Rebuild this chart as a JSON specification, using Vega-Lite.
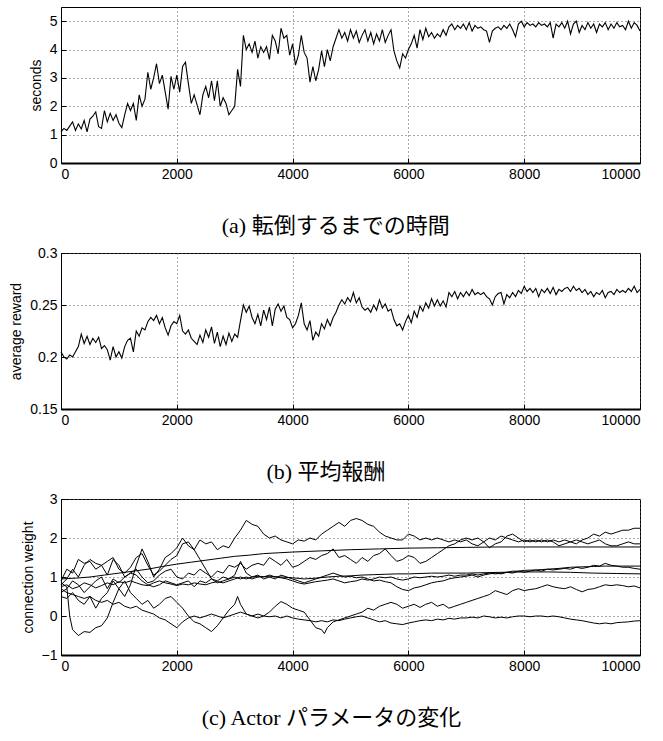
{
"$schema":"https://vega.github.io/schema/vega-lite/v6.json",
"padding":{"left":9,"top":6,"right":0,"bottom":0},
"align":"none",
"center":true,
"spacing":7,
"config":{
 "view":{"stroke":"black","strokeWidth":1},
 "axis":{"labelFont":"Liberation Sans","labelFontSize":14,"labelColor":"black","titleFont":"Liberation Sans","titleFontSize":14,"titleFontWeight":"normal","titleColor":"black","titlePadding":6,"domainColor":"black","tickColor":"black","tickSize":-5,"labelPadding":9,"grid":true,"gridDash":[1,3],"gridColor":"#555","gridOpacity":1},
 "axisX":{"domainWidth":2},
 "axisY":{"domainWidth":1},
 "title":{"font":"Liberation Serif, Noto Sans CJK JP","fontSize":22,"fontWeight":"normal","color":"black","orient":"bottom","anchor":"middle","frame":"bounds","offset":35}
},
"datasets":{
"a":[{"x":0,"y":1.1},{"x":50,"y":1.22},{"x":100,"y":1.15},{"x":150,"y":1.3},{"x":200,"y":1.45},{"x":250,"y":1.15},{"x":300,"y":1.38},{"x":350,"y":1.2},{"x":400,"y":1.5},{"x":450,"y":1.1},{"x":500,"y":1.55},{"x":550,"y":1.65},{"x":600,"y":1.8},{"x":650,"y":1.28},{"x":700,"y":1.22},{"x":750,"y":1.85},{"x":800,"y":1.45},{"x":850,"y":1.75},{"x":900,"y":1.5},{"x":950,"y":1.7},{"x":1000,"y":1.4},{"x":1050,"y":1.25},{"x":1100,"y":1.7},{"x":1150,"y":2.1},{"x":1200,"y":1.85},{"x":1250,"y":2.1},{"x":1300,"y":1.5},{"x":1350,"y":2.4},{"x":1400,"y":2.0},{"x":1450,"y":2.25},{"x":1500,"y":3.2},{"x":1550,"y":2.6},{"x":1600,"y":3.0},{"x":1650,"y":3.5},{"x":1700,"y":2.8},{"x":1750,"y":3.1},{"x":1800,"y":2.5},{"x":1850,"y":1.9},{"x":1900,"y":3.05},{"x":1950,"y":2.6},{"x":2000,"y":3.1},{"x":2050,"y":2.5},{"x":2100,"y":3.4},{"x":2150,"y":3.55},{"x":2200,"y":2.8},{"x":2250,"y":2.1},{"x":2300,"y":2.4},{"x":2350,"y":2.05},{"x":2400,"y":1.7},{"x":2450,"y":2.4},{"x":2500,"y":2.7},{"x":2550,"y":2.3},{"x":2600,"y":2.9},{"x":2650,"y":2.2},{"x":2700,"y":2.9},{"x":2750,"y":2.0},{"x":2800,"y":2.3},{"x":2850,"y":2.1},{"x":2900,"y":1.7},{"x":2950,"y":1.85},{"x":3000,"y":2.0},{"x":3050,"y":3.3},{"x":3100,"y":2.7},{"x":3150,"y":4.5},{"x":3200,"y":4.0},{"x":3250,"y":4.2},{"x":3300,"y":3.9},{"x":3350,"y":4.3},{"x":3400,"y":3.7},{"x":3450,"y":4.1},{"x":3500,"y":3.9},{"x":3550,"y":4.1},{"x":3600,"y":3.65},{"x":3650,"y":4.5},{"x":3700,"y":4.3},{"x":3750,"y":3.85},{"x":3800,"y":4.75},{"x":3850,"y":4.4},{"x":3900,"y":4.5},{"x":3950,"y":3.8},{"x":4000,"y":4.2},{"x":4050,"y":3.45},{"x":4100,"y":3.8},{"x":4150,"y":4.5},{"x":4200,"y":3.9},{"x":4250,"y":3.7},{"x":4300,"y":2.85},{"x":4350,"y":3.4},{"x":4400,"y":2.9},{"x":4450,"y":3.3},{"x":4500,"y":3.95},{"x":4550,"y":3.4},{"x":4600,"y":4.0},{"x":4650,"y":3.6},{"x":4700,"y":4.1},{"x":4750,"y":4.4},{"x":4800,"y":4.7},{"x":4850,"y":4.4},{"x":4900,"y":4.6},{"x":4950,"y":4.3},{"x":5000,"y":4.7},{"x":5050,"y":4.4},{"x":5100,"y":4.65},{"x":5150,"y":4.25},{"x":5200,"y":4.5},{"x":5250,"y":4.7},{"x":5300,"y":4.3},{"x":5350,"y":4.6},{"x":5400,"y":4.2},{"x":5450,"y":4.55},{"x":5500,"y":4.3},{"x":5550,"y":4.7},{"x":5600,"y":4.25},{"x":5650,"y":4.5},{"x":5700,"y":4.7},{"x":5750,"y":3.95},{"x":5800,"y":3.6},{"x":5850,"y":3.35},{"x":5900,"y":3.85},{"x":5950,"y":3.7},{"x":6000,"y":4.0},{"x":6050,"y":4.2},{"x":6100,"y":4.5},{"x":6150,"y":4.05},{"x":6200,"y":4.7},{"x":6250,"y":4.35},{"x":6300,"y":4.75},{"x":6350,"y":4.45},{"x":6400,"y":4.6},{"x":6450,"y":4.4},{"x":6500,"y":4.55},{"x":6550,"y":4.45},{"x":6600,"y":4.7},{"x":6650,"y":4.5},{"x":6700,"y":4.8},{"x":6750,"y":4.9},{"x":6800,"y":4.7},{"x":6850,"y":4.85},{"x":6900,"y":4.75},{"x":6950,"y":4.9},{"x":7000,"y":4.7},{"x":7050,"y":4.95},{"x":7100,"y":4.65},{"x":7150,"y":4.85},{"x":7200,"y":4.75},{"x":7250,"y":4.8},{"x":7300,"y":4.7},{"x":7350,"y":4.65},{"x":7400,"y":4.25},{"x":7450,"y":4.65},{"x":7500,"y":4.75},{"x":7550,"y":4.8},{"x":7600,"y":4.7},{"x":7650,"y":4.85},{"x":7700,"y":4.75},{"x":7750,"y":4.9},{"x":7800,"y":4.7},{"x":7850,"y":4.45},{"x":7900,"y":4.9},{"x":7950,"y":5.0},{"x":8000,"y":4.8},{"x":8050,"y":4.95},{"x":8100,"y":4.85},{"x":8150,"y":4.9},{"x":8200,"y":4.8},{"x":8250,"y":4.95},{"x":8300,"y":4.85},{"x":8350,"y":4.9},{"x":8400,"y":4.8},{"x":8450,"y":4.95},{"x":8500,"y":4.4},{"x":8550,"y":4.9},{"x":8600,"y":4.8},{"x":8650,"y":4.95},{"x":8700,"y":4.75},{"x":8750,"y":5.0},{"x":8800,"y":4.55},{"x":8850,"y":4.9},{"x":8900,"y":5.0},{"x":8950,"y":4.6},{"x":9000,"y":4.85},{"x":9050,"y":4.7},{"x":9100,"y":4.95},{"x":9150,"y":4.75},{"x":9200,"y":4.9},{"x":9250,"y":4.6},{"x":9300,"y":4.9},{"x":9350,"y":4.8},{"x":9400,"y":4.95},{"x":9450,"y":4.7},{"x":9500,"y":4.9},{"x":9550,"y":4.75},{"x":9600,"y":4.95},{"x":9650,"y":4.8},{"x":9700,"y":4.85},{"x":9750,"y":4.7},{"x":9800,"y":5.0},{"x":9850,"y":4.75},{"x":9900,"y":4.95},{"x":9950,"y":4.85},{"x":10000,"y":4.65}],
"b":[{"x":0,"y":0.205},{"x":50,"y":0.2},{"x":100,"y":0.198},{"x":150,"y":0.202},{"x":200,"y":0.2},{"x":250,"y":0.205},{"x":300,"y":0.21},{"x":350,"y":0.222},{"x":400,"y":0.213},{"x":450,"y":0.22},{"x":500,"y":0.212},{"x":550,"y":0.218},{"x":600,"y":0.214},{"x":650,"y":0.219},{"x":700,"y":0.208},{"x":750,"y":0.211},{"x":800,"y":0.207},{"x":850,"y":0.197},{"x":900,"y":0.21},{"x":950,"y":0.2},{"x":1000,"y":0.205},{"x":1050,"y":0.199},{"x":1100,"y":0.21},{"x":1150,"y":0.216},{"x":1200,"y":0.218},{"x":1250,"y":0.205},{"x":1300,"y":0.225},{"x":1350,"y":0.22},{"x":1400,"y":0.228},{"x":1450,"y":0.226},{"x":1500,"y":0.234},{"x":1550,"y":0.238},{"x":1600,"y":0.235},{"x":1650,"y":0.24},{"x":1700,"y":0.232},{"x":1750,"y":0.238},{"x":1800,"y":0.228},{"x":1850,"y":0.221},{"x":1900,"y":0.23},{"x":1950,"y":0.234},{"x":2000,"y":0.232},{"x":2050,"y":0.24},{"x":2100,"y":0.225},{"x":2150,"y":0.222},{"x":2200,"y":0.226},{"x":2250,"y":0.218},{"x":2300,"y":0.215},{"x":2350,"y":0.212},{"x":2400,"y":0.221},{"x":2450,"y":0.214},{"x":2500,"y":0.226},{"x":2550,"y":0.219},{"x":2600,"y":0.229},{"x":2650,"y":0.213},{"x":2700,"y":0.224},{"x":2750,"y":0.21},{"x":2800,"y":0.22},{"x":2850,"y":0.212},{"x":2900,"y":0.223},{"x":2950,"y":0.215},{"x":3000,"y":0.222},{"x":3050,"y":0.219},{"x":3100,"y":0.235},{"x":3150,"y":0.25},{"x":3200,"y":0.243},{"x":3250,"y":0.249},{"x":3300,"y":0.238},{"x":3350,"y":0.232},{"x":3400,"y":0.241},{"x":3450,"y":0.23},{"x":3500,"y":0.245},{"x":3550,"y":0.236},{"x":3600,"y":0.248},{"x":3650,"y":0.23},{"x":3700,"y":0.246},{"x":3750,"y":0.251},{"x":3800,"y":0.244},{"x":3850,"y":0.249},{"x":3900,"y":0.238},{"x":3950,"y":0.236},{"x":4000,"y":0.228},{"x":4050,"y":0.232},{"x":4100,"y":0.24},{"x":4150,"y":0.252},{"x":4200,"y":0.232},{"x":4250,"y":0.226},{"x":4300,"y":0.235},{"x":4350,"y":0.216},{"x":4400,"y":0.224},{"x":4450,"y":0.22},{"x":4500,"y":0.232},{"x":4550,"y":0.227},{"x":4600,"y":0.236},{"x":4650,"y":0.23},{"x":4700,"y":0.238},{"x":4750,"y":0.243},{"x":4800,"y":0.25},{"x":4850,"y":0.255},{"x":4900,"y":0.251},{"x":4950,"y":0.257},{"x":5000,"y":0.253},{"x":5050,"y":0.262},{"x":5100,"y":0.252},{"x":5150,"y":0.257},{"x":5200,"y":0.248},{"x":5250,"y":0.245},{"x":5300,"y":0.247},{"x":5350,"y":0.243},{"x":5400,"y":0.25},{"x":5450,"y":0.245},{"x":5500,"y":0.255},{"x":5550,"y":0.247},{"x":5600,"y":0.251},{"x":5650,"y":0.244},{"x":5700,"y":0.246},{"x":5750,"y":0.236},{"x":5800,"y":0.23},{"x":5850,"y":0.232},{"x":5900,"y":0.226},{"x":5950,"y":0.234},{"x":6000,"y":0.24},{"x":6050,"y":0.233},{"x":6100,"y":0.244},{"x":6150,"y":0.238},{"x":6200,"y":0.249},{"x":6250,"y":0.244},{"x":6300,"y":0.252},{"x":6350,"y":0.247},{"x":6400,"y":0.256},{"x":6450,"y":0.249},{"x":6500,"y":0.255},{"x":6550,"y":0.249},{"x":6600,"y":0.254},{"x":6650,"y":0.248},{"x":6700,"y":0.262},{"x":6750,"y":0.258},{"x":6800,"y":0.263},{"x":6850,"y":0.256},{"x":6900,"y":0.262},{"x":6950,"y":0.258},{"x":7000,"y":0.263},{"x":7050,"y":0.259},{"x":7100,"y":0.265},{"x":7150,"y":0.26},{"x":7200,"y":0.262},{"x":7250,"y":0.26},{"x":7300,"y":0.262},{"x":7350,"y":0.258},{"x":7400,"y":0.256},{"x":7450,"y":0.25},{"x":7500,"y":0.258},{"x":7550,"y":0.261},{"x":7600,"y":0.262},{"x":7650,"y":0.251},{"x":7700,"y":0.26},{"x":7750,"y":0.257},{"x":7800,"y":0.262},{"x":7850,"y":0.258},{"x":7900,"y":0.264},{"x":7950,"y":0.261},{"x":8000,"y":0.268},{"x":8050,"y":0.263},{"x":8100,"y":0.266},{"x":8150,"y":0.262},{"x":8200,"y":0.266},{"x":8250,"y":0.258},{"x":8300,"y":0.265},{"x":8350,"y":0.262},{"x":8400,"y":0.266},{"x":8450,"y":0.261},{"x":8500,"y":0.267},{"x":8550,"y":0.26},{"x":8600,"y":0.265},{"x":8650,"y":0.263},{"x":8700,"y":0.266},{"x":8750,"y":0.267},{"x":8800,"y":0.263},{"x":8850,"y":0.268},{"x":8900,"y":0.264},{"x":8950,"y":0.266},{"x":9000,"y":0.262},{"x":9050,"y":0.265},{"x":9100,"y":0.26},{"x":9150,"y":0.263},{"x":9200,"y":0.258},{"x":9250,"y":0.262},{"x":9300,"y":0.26},{"x":9350,"y":0.264},{"x":9400,"y":0.257},{"x":9450,"y":0.262},{"x":9500,"y":0.263},{"x":9550,"y":0.26},{"x":9600,"y":0.265},{"x":9650,"y":0.262},{"x":9700,"y":0.264},{"x":9750,"y":0.262},{"x":9800,"y":0.266},{"x":9850,"y":0.263},{"x":9900,"y":0.268},{"x":9950,"y":0.262},{"x":10000,"y":0.265}],
"c":[
{"s":1,"x":0,"y":0.8},{"s":1,"x":100,"y":0.95},{"s":1,"x":200,"y":1.2},{"s":1,"x":300,"y":1.0},{"s":1,"x":400,"y":1.3},{"s":1,"x":500,"y":1.45},{"s":1,"x":600,"y":1.35},{"s":1,"x":700,"y":1.3},{"s":1,"x":800,"y":1.4},{"s":1,"x":900,"y":1.5},{"s":1,"x":1000,"y":1.2},{"s":1,"x":1100,"y":1.1},{"s":1,"x":1200,"y":1.25},{"s":1,"x":1300,"y":1.5},{"s":1,"x":1400,"y":1.6},{"s":1,"x":1500,"y":1.3},{"s":1,"x":1600,"y":1.05},{"s":1,"x":1700,"y":1.15},{"s":1,"x":1800,"y":1.3},{"s":1,"x":1900,"y":1.45},{"s":1,"x":2000,"y":1.55},{"s":1,"x":2100,"y":1.85},{"s":1,"x":2200,"y":1.9},{"s":1,"x":2300,"y":1.7},{"s":1,"x":2400,"y":1.95},{"s":1,"x":2500,"y":1.85},{"s":1,"x":2600,"y":1.9},{"s":1,"x":2700,"y":1.7},{"s":1,"x":2800,"y":1.8},{"s":1,"x":2900,"y":1.75},{"s":1,"x":3000,"y":2.0},{"s":1,"x":3100,"y":2.2},{"s":1,"x":3200,"y":2.45},{"s":1,"x":3300,"y":2.35},{"s":1,"x":3400,"y":2.3},{"s":1,"x":3500,"y":2.1},{"s":1,"x":3600,"y":2.0},{"s":1,"x":3700,"y":2.05},{"s":1,"x":3800,"y":1.95},{"s":1,"x":3900,"y":1.9},{"s":1,"x":4000,"y":1.85},{"s":1,"x":4100,"y":1.95},{"s":1,"x":4200,"y":1.92},{"s":1,"x":4300,"y":2.0},{"s":1,"x":4400,"y":1.95},{"s":1,"x":4500,"y":2.1},{"s":1,"x":4600,"y":2.2},{"s":1,"x":4700,"y":2.3},{"s":1,"x":4800,"y":2.4},{"s":1,"x":4900,"y":2.3},{"s":1,"x":5000,"y":2.45},{"s":1,"x":5100,"y":2.5},{"s":1,"x":5200,"y":2.45},{"s":1,"x":5300,"y":2.35},{"s":1,"x":5400,"y":2.3},{"s":1,"x":5500,"y":2.15},{"s":1,"x":5600,"y":2.05},{"s":1,"x":5700,"y":2.0},{"s":1,"x":5800,"y":1.95},{"s":1,"x":5900,"y":1.95},{"s":1,"x":6000,"y":2.1},{"s":1,"x":6100,"y":2.05},{"s":1,"x":6200,"y":1.95},{"s":1,"x":6300,"y":2.0},{"s":1,"x":6400,"y":1.95},{"s":1,"x":6500,"y":2.0},{"s":1,"x":6600,"y":1.95},{"s":1,"x":6700,"y":1.9},{"s":1,"x":6800,"y":1.95},{"s":1,"x":6900,"y":1.9},{"s":1,"x":7000,"y":1.95},{"s":1,"x":7100,"y":1.85},{"s":1,"x":7200,"y":1.8},{"s":1,"x":7300,"y":1.9},{"s":1,"x":7400,"y":2.0},{"s":1,"x":7500,"y":1.95},{"s":1,"x":7600,"y":2.05},{"s":1,"x":7700,"y":2.0},{"s":1,"x":7800,"y":1.95},{"s":1,"x":7900,"y":1.9},{"s":1,"x":8000,"y":1.95},{"s":1,"x":8100,"y":1.9},{"s":1,"x":8200,"y":1.95},{"s":1,"x":8300,"y":1.9},{"s":1,"x":8400,"y":1.95},{"s":1,"x":8500,"y":1.9},{"s":1,"x":8600,"y":1.8},{"s":1,"x":8700,"y":1.85},{"s":1,"x":8800,"y":1.9},{"s":1,"x":8900,"y":1.85},{"s":1,"x":9000,"y":1.95},{"s":1,"x":9100,"y":2.0},{"s":1,"x":9200,"y":2.1},{"s":1,"x":9300,"y":2.05},{"s":1,"x":9400,"y":2.15},{"s":1,"x":9500,"y":2.1},{"s":1,"x":9600,"y":2.15},{"s":1,"x":9700,"y":2.2},{"s":1,"x":9800,"y":2.2},{"s":1,"x":9900,"y":2.25},{"s":1,"x":10000,"y":2.25},
{"s":2,"x":0,"y":0.9},{"s":2,"x":100,"y":1.2},{"s":2,"x":200,"y":1.1},{"s":2,"x":300,"y":1.45},{"s":2,"x":400,"y":1.35},{"s":2,"x":500,"y":1.4},{"s":2,"x":600,"y":1.2},{"s":2,"x":700,"y":1.3},{"s":2,"x":800,"y":1.05},{"s":2,"x":900,"y":1.45},{"s":2,"x":1000,"y":1.3},{"s":2,"x":1100,"y":1.0},{"s":2,"x":1200,"y":1.1},{"s":2,"x":1300,"y":1.2},{"s":2,"x":1400,"y":1.0},{"s":2,"x":1500,"y":0.85},{"s":2,"x":1600,"y":0.9},{"s":2,"x":1700,"y":1.05},{"s":2,"x":1800,"y":1.15},{"s":2,"x":1900,"y":1.2},{"s":2,"x":2000,"y":1.0},{"s":2,"x":2100,"y":0.95},{"s":2,"x":2200,"y":1.1},{"s":2,"x":2300,"y":1.05},{"s":2,"x":2400,"y":1.2},{"s":2,"x":2500,"y":1.1},{"s":2,"x":2600,"y":1.0},{"s":2,"x":2700,"y":1.15},{"s":2,"x":2800,"y":1.1},{"s":2,"x":2900,"y":1.3},{"s":2,"x":3000,"y":1.25},{"s":2,"x":3100,"y":1.35},{"s":2,"x":3200,"y":1.2},{"s":2,"x":3300,"y":1.3},{"s":2,"x":3400,"y":1.35},{"s":2,"x":3500,"y":1.3},{"s":2,"x":3600,"y":1.5},{"s":2,"x":3700,"y":1.4},{"s":2,"x":3800,"y":1.3},{"s":2,"x":3900,"y":1.45},{"s":2,"x":4000,"y":1.25},{"s":2,"x":4100,"y":1.3},{"s":2,"x":4200,"y":1.4},{"s":2,"x":4300,"y":1.5},{"s":2,"x":4400,"y":1.45},{"s":2,"x":4500,"y":1.55},{"s":2,"x":4600,"y":1.6},{"s":2,"x":4700,"y":1.72},{"s":2,"x":4800,"y":1.5},{"s":2,"x":4900,"y":1.55},{"s":2,"x":5000,"y":1.45},{"s":2,"x":5100,"y":1.35},{"s":2,"x":5200,"y":1.5},{"s":2,"x":5300,"y":1.4},{"s":2,"x":5400,"y":1.55},{"s":2,"x":5500,"y":1.6},{"s":2,"x":5600,"y":1.72},{"s":2,"x":5700,"y":1.55},{"s":2,"x":5800,"y":1.4},{"s":2,"x":5900,"y":1.45},{"s":2,"x":6000,"y":1.55},{"s":2,"x":6100,"y":1.5},{"s":2,"x":6200,"y":1.35},{"s":2,"x":6300,"y":1.4},{"s":2,"x":6400,"y":1.5},{"s":2,"x":6500,"y":1.6},{"s":2,"x":6600,"y":1.7},{"s":2,"x":6700,"y":1.8},{"s":2,"x":6800,"y":1.85},{"s":2,"x":6900,"y":1.95},{"s":2,"x":7000,"y":2.0},{"s":2,"x":7100,"y":1.95},{"s":2,"x":7200,"y":2.0},{"s":2,"x":7300,"y":1.9},{"s":2,"x":7400,"y":1.75},{"s":2,"x":7500,"y":1.85},{"s":2,"x":7600,"y":1.9},{"s":2,"x":7700,"y":2.05},{"s":2,"x":7800,"y":2.1},{"s":2,"x":7900,"y":2.0},{"s":2,"x":8000,"y":1.9},{"s":2,"x":8100,"y":1.95},{"s":2,"x":8200,"y":1.9},{"s":2,"x":8300,"y":1.95},{"s":2,"x":8400,"y":1.9},{"s":2,"x":8500,"y":1.95},{"s":2,"x":8600,"y":1.9},{"s":2,"x":8700,"y":1.95},{"s":2,"x":8800,"y":1.9},{"s":2,"x":8900,"y":1.95},{"s":2,"x":9000,"y":1.9},{"s":2,"x":9100,"y":1.85},{"s":2,"x":9200,"y":1.9},{"s":2,"x":9300,"y":1.95},{"s":2,"x":9400,"y":1.85},{"s":2,"x":9500,"y":1.8},{"s":2,"x":9600,"y":1.8},{"s":2,"x":9700,"y":1.85},{"s":2,"x":9800,"y":1.9},{"s":2,"x":9900,"y":1.85},{"s":2,"x":10000,"y":1.85},
{"s":3,"x":0,"y":0.95},{"s":3,"x":250,"y":0.97},{"s":3,"x":500,"y":1.0},{"s":3,"x":750,"y":1.05},{"s":3,"x":1000,"y":1.1},{"s":3,"x":1250,"y":1.15},{"s":3,"x":1500,"y":1.2},{"s":3,"x":1750,"y":1.27},{"s":3,"x":2000,"y":1.33},{"s":3,"x":2250,"y":1.38},{"s":3,"x":2500,"y":1.43},{"s":3,"x":2750,"y":1.48},{"s":3,"x":3000,"y":1.53},{"s":3,"x":3250,"y":1.56},{"s":3,"x":3500,"y":1.6},{"s":3,"x":3750,"y":1.62},{"s":3,"x":4000,"y":1.64},{"s":3,"x":4500,"y":1.67},{"s":3,"x":5000,"y":1.7},{"s":3,"x":5500,"y":1.72},{"s":3,"x":6000,"y":1.74},{"s":3,"x":6500,"y":1.75},{"s":3,"x":7000,"y":1.76},{"s":3,"x":7500,"y":1.77},{"s":3,"x":8000,"y":1.77},{"s":3,"x":9000,"y":1.77},{"s":3,"x":10000,"y":1.77},
{"s":4,"x":0,"y":0.75},{"s":4,"x":100,"y":0.8},{"s":4,"x":200,"y":0.7},{"s":4,"x":300,"y":0.75},{"s":4,"x":400,"y":0.85},{"s":4,"x":500,"y":0.8},{"s":4,"x":600,"y":0.72},{"s":4,"x":700,"y":0.78},{"s":4,"x":800,"y":0.85},{"s":4,"x":900,"y":0.8},{"s":4,"x":1000,"y":0.88},{"s":4,"x":1100,"y":0.85},{"s":4,"x":1200,"y":0.9},{"s":4,"x":1300,"y":0.85},{"s":4,"x":1400,"y":0.8},{"s":4,"x":1500,"y":0.78},{"s":4,"x":1600,"y":0.85},{"s":4,"x":1700,"y":0.9},{"s":4,"x":1800,"y":0.85},{"s":4,"x":1900,"y":0.82},{"s":4,"x":2000,"y":0.78},{"s":4,"x":2100,"y":0.82},{"s":4,"x":2200,"y":0.8},{"s":4,"x":2300,"y":0.85},{"s":4,"x":2400,"y":0.82},{"s":4,"x":2500,"y":0.8},{"s":4,"x":2600,"y":0.85},{"s":4,"x":2700,"y":0.88},{"s":4,"x":2800,"y":0.85},{"s":4,"x":2900,"y":0.9},{"s":4,"x":3000,"y":0.95},{"s":4,"x":3100,"y":1.0},{"s":4,"x":3200,"y":0.95},{"s":4,"x":3300,"y":1.0},{"s":4,"x":3400,"y":1.02},{"s":4,"x":3500,"y":1.0},{"s":4,"x":3600,"y":1.05},{"s":4,"x":3700,"y":1.0},{"s":4,"x":3800,"y":0.98},{"s":4,"x":3900,"y":0.95},{"s":4,"x":4000,"y":0.9},{"s":4,"x":4100,"y":0.85},{"s":4,"x":4200,"y":0.82},{"s":4,"x":4300,"y":0.85},{"s":4,"x":4400,"y":0.88},{"s":4,"x":4500,"y":0.9},{"s":4,"x":4600,"y":0.92},{"s":4,"x":4700,"y":0.95},{"s":4,"x":4800,"y":0.9},{"s":4,"x":4900,"y":0.85},{"s":4,"x":5000,"y":0.88},{"s":4,"x":5100,"y":0.9},{"s":4,"x":5200,"y":0.95},{"s":4,"x":5300,"y":0.92},{"s":4,"x":5400,"y":0.95},{"s":4,"x":5500,"y":1.0},{"s":4,"x":5600,"y":0.98},{"s":4,"x":5700,"y":1.0},{"s":4,"x":5800,"y":0.95},{"s":4,"x":5900,"y":0.92},{"s":4,"x":6000,"y":0.95},{"s":4,"x":6100,"y":1.0},{"s":4,"x":6200,"y":0.98},{"s":4,"x":6300,"y":1.0},{"s":4,"x":6400,"y":1.02},{"s":4,"x":6500,"y":1.0},{"s":4,"x":6600,"y":1.02},{"s":4,"x":6700,"y":1.05},{"s":4,"x":6800,"y":1.02},{"s":4,"x":6900,"y":1.05},{"s":4,"x":7000,"y":1.05},{"s":4,"x":7100,"y":1.08},{"s":4,"x":7200,"y":1.05},{"s":4,"x":7300,"y":1.08},{"s":4,"x":7400,"y":1.1},{"s":4,"x":7500,"y":1.08},{"s":4,"x":7600,"y":1.1},{"s":4,"x":7700,"y":1.12},{"s":4,"x":7800,"y":1.15},{"s":4,"x":7900,"y":1.15},{"s":4,"x":8000,"y":1.17},{"s":4,"x":8200,"y":1.18},{"s":4,"x":8400,"y":1.2},{"s":4,"x":8600,"y":1.22},{"s":4,"x":8800,"y":1.25},{"s":4,"x":9000,"y":1.26},{"s":4,"x":9200,"y":1.27},{"s":4,"x":9400,"y":1.28},{"s":4,"x":9700,"y":1.28},{"s":4,"x":10000,"y":1.28},
{"s":5,"x":0,"y":0.6},{"s":5,"x":100,"y":0.7},{"s":5,"x":200,"y":0.9},{"s":5,"x":300,"y":0.8},{"s":5,"x":400,"y":0.6},{"s":5,"x":500,"y":0.75},{"s":5,"x":600,"y":0.9},{"s":5,"x":700,"y":1.0},{"s":5,"x":800,"y":0.7},{"s":5,"x":900,"y":0.95},{"s":5,"x":1000,"y":0.85},{"s":5,"x":1100,"y":1.0},{"s":5,"x":1200,"y":1.1},{"s":5,"x":1300,"y":1.05},{"s":5,"x":1400,"y":0.9},{"s":5,"x":1500,"y":0.8},{"s":5,"x":1600,"y":0.75},{"s":5,"x":1700,"y":0.8},{"s":5,"x":1800,"y":0.9},{"s":5,"x":1900,"y":0.85},{"s":5,"x":2000,"y":0.8},{"s":5,"x":2100,"y":0.85},{"s":5,"x":2200,"y":0.9},{"s":5,"x":2300,"y":0.75},{"s":5,"x":2400,"y":0.9},{"s":5,"x":2500,"y":0.85},{"s":5,"x":2600,"y":0.95},{"s":5,"x":2700,"y":0.85},{"s":5,"x":2800,"y":0.9},{"s":5,"x":2900,"y":0.95},{"s":5,"x":3000,"y":1.05},{"s":5,"x":3100,"y":1.4},{"s":5,"x":3200,"y":1.1},{"s":5,"x":3300,"y":1.0},{"s":5,"x":3400,"y":1.05},{"s":5,"x":3500,"y":0.95},{"s":5,"x":3600,"y":1.0},{"s":5,"x":3700,"y":0.95},{"s":5,"x":3800,"y":1.05},{"s":5,"x":3900,"y":1.0},{"s":5,"x":4000,"y":0.95},{"s":5,"x":4100,"y":0.9},{"s":5,"x":4200,"y":0.85},{"s":5,"x":4300,"y":0.9},{"s":5,"x":4400,"y":0.95},{"s":5,"x":4500,"y":1.0},{"s":5,"x":4600,"y":1.05},{"s":5,"x":4700,"y":1.1},{"s":5,"x":4800,"y":1.05},{"s":5,"x":4900,"y":1.0},{"s":5,"x":5000,"y":1.02},{"s":5,"x":5100,"y":0.98},{"s":5,"x":5200,"y":1.0},{"s":5,"x":5300,"y":0.95},{"s":5,"x":5400,"y":0.9},{"s":5,"x":5500,"y":0.92},{"s":5,"x":5600,"y":0.88},{"s":5,"x":5700,"y":0.85},{"s":5,"x":5800,"y":0.75},{"s":5,"x":5900,"y":0.68},{"s":5,"x":6000,"y":0.65},{"s":5,"x":6100,"y":0.72},{"s":5,"x":6200,"y":0.75},{"s":5,"x":6300,"y":0.8},{"s":5,"x":6400,"y":0.85},{"s":5,"x":6500,"y":0.88},{"s":5,"x":6600,"y":0.9},{"s":5,"x":6700,"y":0.95},{"s":5,"x":6800,"y":0.98},{"s":5,"x":6900,"y":1.0},{"s":5,"x":7000,"y":1.02},{"s":5,"x":7100,"y":1.05},{"s":5,"x":7200,"y":1.0},{"s":5,"x":7300,"y":1.05},{"s":5,"x":7400,"y":1.08},{"s":5,"x":7500,"y":1.1},{"s":5,"x":7600,"y":1.08},{"s":5,"x":7700,"y":1.12},{"s":5,"x":7800,"y":1.1},{"s":5,"x":7900,"y":1.15},{"s":5,"x":8000,"y":1.12},{"s":5,"x":8100,"y":1.15},{"s":5,"x":8200,"y":1.18},{"s":5,"x":8300,"y":1.15},{"s":5,"x":8400,"y":1.2},{"s":5,"x":8500,"y":1.18},{"s":5,"x":8600,"y":1.2},{"s":5,"x":8700,"y":1.22},{"s":5,"x":8800,"y":1.2},{"s":5,"x":8900,"y":1.25},{"s":5,"x":9000,"y":1.22},{"s":5,"x":9100,"y":1.25},{"s":5,"x":9200,"y":1.3},{"s":5,"x":9300,"y":1.28},{"s":5,"x":9400,"y":1.35},{"s":5,"x":9500,"y":1.3},{"s":5,"x":9600,"y":1.28},{"s":5,"x":9700,"y":1.25},{"s":5,"x":9800,"y":1.25},{"s":5,"x":9900,"y":1.22},{"s":5,"x":10000,"y":1.2},
{"s":6,"x":0,"y":0.5},{"s":6,"x":100,"y":0.45},{"s":6,"x":200,"y":0.6},{"s":6,"x":300,"y":0.4},{"s":6,"x":400,"y":0.3},{"s":6,"x":500,"y":0.5},{"s":6,"x":600,"y":0.2},{"s":6,"x":700,"y":0.45},{"s":6,"x":800,"y":0.6},{"s":6,"x":900,"y":0.9},{"s":6,"x":1000,"y":0.7},{"s":6,"x":1100,"y":0.5},{"s":6,"x":1200,"y":0.8},{"s":6,"x":1300,"y":1.3},{"s":6,"x":1400,"y":1.72},{"s":6,"x":1500,"y":1.4},{"s":6,"x":1600,"y":1.0},{"s":6,"x":1700,"y":1.2},{"s":6,"x":1800,"y":1.5},{"s":6,"x":1900,"y":1.6},{"s":6,"x":2000,"y":1.75},{"s":6,"x":2100,"y":2.0},{"s":6,"x":2200,"y":1.8},{"s":6,"x":2300,"y":1.7},{"s":6,"x":2400,"y":1.45},{"s":6,"x":2500,"y":1.2},{"s":6,"x":2600,"y":0.95},{"s":6,"x":2700,"y":0.9},{"s":6,"x":2800,"y":1.0},{"s":6,"x":2900,"y":0.95},{"s":6,"x":3000,"y":1.0},{"s":6,"x":3100,"y":0.95},{"s":6,"x":3200,"y":1.0},{"s":6,"x":3300,"y":0.95},{"s":6,"x":3400,"y":1.0},{"s":6,"x":3600,"y":1.02},{"s":6,"x":3800,"y":1.0},{"s":6,"x":4000,"y":0.98},{"s":6,"x":4200,"y":0.95},{"s":6,"x":4400,"y":0.97},{"s":6,"x":4600,"y":1.0},{"s":6,"x":4800,"y":1.02},{"s":6,"x":5000,"y":1.03},{"s":6,"x":5200,"y":1.05},{"s":6,"x":5400,"y":1.06},{"s":6,"x":5600,"y":1.07},{"s":6,"x":5800,"y":1.08},{"s":6,"x":6000,"y":1.08},{"s":6,"x":6400,"y":1.1},{"s":6,"x":7000,"y":1.1},{"s":6,"x":7600,"y":1.12},{"s":6,"x":8000,"y":1.13},{"s":6,"x":8400,"y":1.13},{"s":6,"x":8800,"y":1.12},{"s":6,"x":9200,"y":1.1},{"s":6,"x":9600,"y":1.09},{"s":6,"x":10000,"y":1.08},
{"s":7,"x":0,"y":0.85},{"s":7,"x":100,"y":0.75},{"s":7,"x":150,"y":0.0},{"s":7,"x":200,"y":-0.35},{"s":7,"x":300,"y":-0.5},{"s":7,"x":400,"y":-0.4},{"s":7,"x":500,"y":-0.42},{"s":7,"x":600,"y":-0.3},{"s":7,"x":700,"y":-0.25},{"s":7,"x":800,"y":-0.05},{"s":7,"x":900,"y":0.35},{"s":7,"x":1000,"y":0.7},{"s":7,"x":1100,"y":0.9},{"s":7,"x":1200,"y":0.6},{"s":7,"x":1300,"y":0.45},{"s":7,"x":1400,"y":0.3},{"s":7,"x":1500,"y":0.4},{"s":7,"x":1600,"y":0.2},{"s":7,"x":1700,"y":0.3},{"s":7,"x":1800,"y":0.45},{"s":7,"x":1900,"y":0.5},{"s":7,"x":2000,"y":0.35},{"s":7,"x":2100,"y":0.2},{"s":7,"x":2200,"y":0.0},{"s":7,"x":2300,"y":-0.15},{"s":7,"x":2400,"y":-0.2},{"s":7,"x":2500,"y":-0.3},{"s":7,"x":2600,"y":-0.4},{"s":7,"x":2700,"y":-0.25},{"s":7,"x":2800,"y":-0.05},{"s":7,"x":2900,"y":0.15},{"s":7,"x":3000,"y":0.3},{"s":7,"x":3050,"y":0.5},{"s":7,"x":3100,"y":0.3},{"s":7,"x":3200,"y":0.05},{"s":7,"x":3300,"y":0.0},{"s":7,"x":3400,"y":0.05},{"s":7,"x":3500,"y":0.0},{"s":7,"x":3600,"y":0.1},{"s":7,"x":3700,"y":0.25},{"s":7,"x":3800,"y":0.37},{"s":7,"x":3900,"y":0.3},{"s":7,"x":4000,"y":0.2},{"s":7,"x":4100,"y":0.15},{"s":7,"x":4200,"y":0.1},{"s":7,"x":4300,"y":-0.1},{"s":7,"x":4400,"y":-0.3},{"s":7,"x":4500,"y":-0.35},{"s":7,"x":4550,"y":-0.45},{"s":7,"x":4600,"y":-0.3},{"s":7,"x":4700,"y":-0.15},{"s":7,"x":4800,"y":-0.1},{"s":7,"x":4900,"y":-0.05},{"s":7,"x":5000,"y":0.0},{"s":7,"x":5100,"y":0.05},{"s":7,"x":5200,"y":0.1},{"s":7,"x":5300,"y":0.2},{"s":7,"x":5400,"y":0.15},{"s":7,"x":5500,"y":0.25},{"s":7,"x":5600,"y":0.3},{"s":7,"x":5700,"y":0.35},{"s":7,"x":5800,"y":0.3},{"s":7,"x":5900,"y":0.2},{"s":7,"x":6000,"y":0.25},{"s":7,"x":6100,"y":0.3},{"s":7,"x":6200,"y":0.22},{"s":7,"x":6300,"y":0.3},{"s":7,"x":6400,"y":0.35},{"s":7,"x":6500,"y":0.25},{"s":7,"x":6600,"y":0.3},{"s":7,"x":6700,"y":0.2},{"s":7,"x":6800,"y":0.25},{"s":7,"x":6900,"y":0.3},{"s":7,"x":7000,"y":0.35},{"s":7,"x":7100,"y":0.4},{"s":7,"x":7200,"y":0.45},{"s":7,"x":7300,"y":0.5},{"s":7,"x":7400,"y":0.55},{"s":7,"x":7500,"y":0.65},{"s":7,"x":7600,"y":0.6},{"s":7,"x":7700,"y":0.55},{"s":7,"x":7800,"y":0.65},{"s":7,"x":7900,"y":0.7},{"s":7,"x":8000,"y":0.65},{"s":7,"x":8100,"y":0.68},{"s":7,"x":8200,"y":0.7},{"s":7,"x":8300,"y":0.75},{"s":7,"x":8400,"y":0.8},{"s":7,"x":8500,"y":0.75},{"s":7,"x":8600,"y":0.72},{"s":7,"x":8700,"y":0.7},{"s":7,"x":8800,"y":0.75},{"s":7,"x":8900,"y":0.68},{"s":7,"x":9000,"y":0.62},{"s":7,"x":9100,"y":0.68},{"s":7,"x":9200,"y":0.7},{"s":7,"x":9300,"y":0.75},{"s":7,"x":9400,"y":0.8},{"s":7,"x":9500,"y":0.78},{"s":7,"x":9600,"y":0.8},{"s":7,"x":9700,"y":0.78},{"s":7,"x":9800,"y":0.75},{"s":7,"x":9900,"y":0.77},{"s":7,"x":10000,"y":0.72},
{"s":8,"x":0,"y":0.7},{"s":8,"x":100,"y":0.6},{"s":8,"x":200,"y":0.55},{"s":8,"x":300,"y":0.5},{"s":8,"x":400,"y":0.45},{"s":8,"x":500,"y":0.5},{"s":8,"x":600,"y":0.4},{"s":8,"x":700,"y":0.35},{"s":8,"x":800,"y":0.4},{"s":8,"x":900,"y":0.3},{"s":8,"x":1000,"y":0.35},{"s":8,"x":1100,"y":0.25},{"s":8,"x":1200,"y":0.2},{"s":8,"x":1300,"y":0.25},{"s":8,"x":1400,"y":0.15},{"s":8,"x":1500,"y":0.1},{"s":8,"x":1600,"y":0.05},{"s":8,"x":1700,"y":-0.05},{"s":8,"x":1800,"y":-0.1},{"s":8,"x":1900,"y":-0.2},{"s":8,"x":2000,"y":-0.3},{"s":8,"x":2100,"y":-0.15},{"s":8,"x":2200,"y":-0.05},{"s":8,"x":2300,"y":0.0},{"s":8,"x":2400,"y":-0.05},{"s":8,"x":2500,"y":0.0},{"s":8,"x":2600,"y":0.05},{"s":8,"x":2700,"y":0.0},{"s":8,"x":2800,"y":-0.05},{"s":8,"x":2900,"y":0.0},{"s":8,"x":3000,"y":0.05},{"s":8,"x":3100,"y":0.1},{"s":8,"x":3200,"y":0.05},{"s":8,"x":3300,"y":0.0},{"s":8,"x":3400,"y":-0.05},{"s":8,"x":3500,"y":0.0},{"s":8,"x":3600,"y":-0.02},{"s":8,"x":3700,"y":0.0},{"s":8,"x":3800,"y":-0.05},{"s":8,"x":3900,"y":0.0},{"s":8,"x":4000,"y":-0.05},{"s":8,"x":4100,"y":-0.08},{"s":8,"x":4200,"y":-0.1},{"s":8,"x":4300,"y":-0.12},{"s":8,"x":4400,"y":-0.15},{"s":8,"x":4500,"y":-0.12},{"s":8,"x":4600,"y":-0.15},{"s":8,"x":4700,"y":-0.1},{"s":8,"x":4800,"y":-0.12},{"s":8,"x":4900,"y":-0.08},{"s":8,"x":5000,"y":-0.05},{"s":8,"x":5100,"y":-0.02},{"s":8,"x":5200,"y":0.0},{"s":8,"x":5300,"y":-0.05},{"s":8,"x":5400,"y":-0.1},{"s":8,"x":5500,"y":-0.15},{"s":8,"x":5600,"y":-0.12},{"s":8,"x":5700,"y":-0.18},{"s":8,"x":5800,"y":-0.2},{"s":8,"x":5900,"y":-0.22},{"s":8,"x":6000,"y":-0.18},{"s":8,"x":6100,"y":-0.15},{"s":8,"x":6200,"y":-0.12},{"s":8,"x":6300,"y":-0.1},{"s":8,"x":6400,"y":-0.12},{"s":8,"x":6500,"y":-0.08},{"s":8,"x":6600,"y":-0.1},{"s":8,"x":6700,"y":-0.06},{"s":8,"x":6800,"y":-0.08},{"s":8,"x":6900,"y":-0.05},{"s":8,"x":7000,"y":-0.05},{"s":8,"x":7100,"y":-0.03},{"s":8,"x":7200,"y":-0.05},{"s":8,"x":7300,"y":0.0},{"s":8,"x":7400,"y":-0.02},{"s":8,"x":7500,"y":-0.05},{"s":8,"x":7600,"y":-0.03},{"s":8,"x":7700,"y":-0.05},{"s":8,"x":7800,"y":-0.02},{"s":8,"x":7900,"y":0.0},{"s":8,"x":8000,"y":0.0},{"s":8,"x":8100,"y":-0.02},{"s":8,"x":8200,"y":0.0},{"s":8,"x":8300,"y":0.0},{"s":8,"x":8400,"y":-0.02},{"s":8,"x":8500,"y":0.0},{"s":8,"x":8600,"y":-0.02},{"s":8,"x":8700,"y":-0.05},{"s":8,"x":8800,"y":-0.08},{"s":8,"x":8900,"y":-0.1},{"s":8,"x":9000,"y":-0.12},{"s":8,"x":9100,"y":-0.15},{"s":8,"x":9200,"y":-0.18},{"s":8,"x":9300,"y":-0.2},{"s":8,"x":9400,"y":-0.18},{"s":8,"x":9500,"y":-0.2},{"s":8,"x":9600,"y":-0.17},{"s":8,"x":9700,"y":-0.16},{"s":8,"x":9800,"y":-0.15},{"s":8,"x":9900,"y":-0.13},{"s":8,"x":10000,"y":-0.12}
]},
"vconcat":[
{"width":579,"height":156,"data":{"name":"a"},
 "title":{"text":"(a) 転倒するまでの時間"},
 "mark":{"type":"line","color":"black","strokeWidth":1.1},
 "encoding":{
  "x":{"field":"x","type":"quantitative","scale":{"domain":[0,10000],"nice":false},"axis":{"title":null,"values":[0,2000,4000,6000,8000,10000],"format":"d"}},
  "y":{"field":"y","type":"quantitative","scale":{"domain":[0,5.5],"nice":false,"zero":false},"axis":{"title":"seconds","values":[0,1,2,3,4,5]}}}},
{"width":579,"height":156,"data":{"name":"b"},
 "title":{"text":"(b) 平均報酬"},
 "mark":{"type":"line","color":"black","strokeWidth":1.1},
 "encoding":{
  "x":{"field":"x","type":"quantitative","scale":{"domain":[0,10000],"nice":false},"axis":{"title":null,"values":[0,2000,4000,6000,8000,10000],"format":"d"}},
  "y":{"field":"y","type":"quantitative","scale":{"domain":[0.15,0.3],"nice":false,"zero":false},"axis":{"title":"average reward","values":[0.15,0.2,0.25,0.3],"format":"~g"}}}},
{"width":579,"height":156,"data":{"name":"c"},
 "title":{"text":"(c) Actor パラメータの変化"},
 "mark":{"type":"line","color":"black","strokeWidth":1},
 "encoding":{
  "x":{"field":"x","type":"quantitative","scale":{"domain":[0,10000],"nice":false},"axis":{"title":null,"values":[0,2000,4000,6000,8000,10000],"format":"d"}},
  "y":{"field":"y","type":"quantitative","scale":{"domain":[-1,3],"nice":false,"zero":false},"axis":{"title":"connection weight","values":[-1,0,1,2,3]}},
  "detail":{"field":"s","type":"nominal"}}}
]
}
